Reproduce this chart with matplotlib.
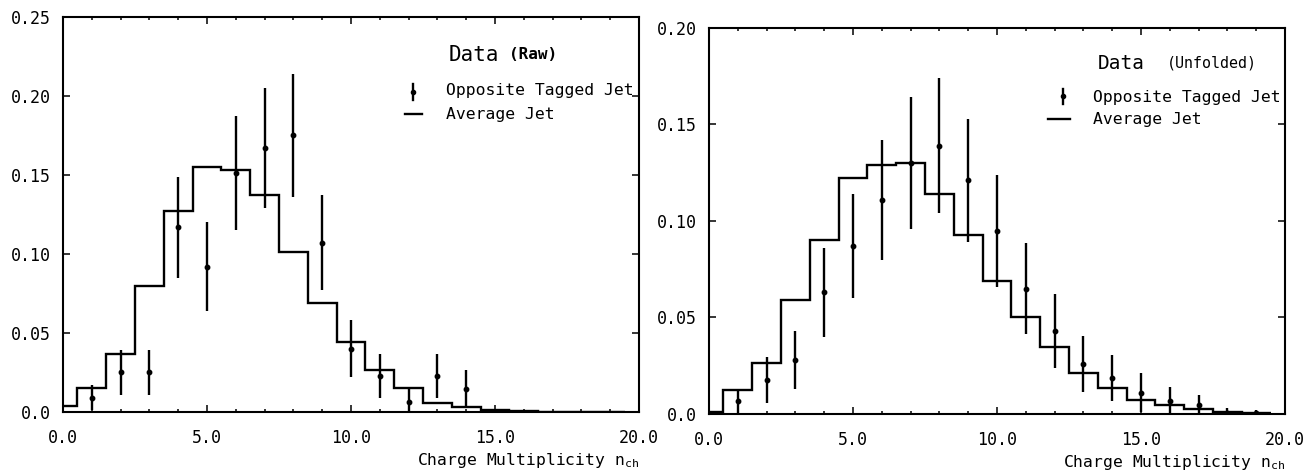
import numpy as np
import matplotlib
matplotlib.use("Agg")
import matplotlib.pyplot as plt
from matplotlib.ticker import MultipleLocator

# ---------------- data ----------------
bin_centers = list(range(0, 20))

# Left panel: Data (Raw)
avg_raw = [0.004, 0.015, 0.0365, 0.080, 0.127, 0.155, 0.153, 0.137, 0.101, 0.069,
           0.044, 0.0266, 0.015, 0.0055, 0.0034, 0.0012, 0.0004, 0.0001, 0.0, 0.0]
otj_raw_x = list(range(1, 15))
otj_raw = [0.009, 0.025, 0.025, 0.117, 0.092, 0.151, 0.167, 0.175, 0.107, 0.040,
           0.023, 0.0065, 0.023, 0.0145]
otj_raw_err = [0.008, 0.014, 0.014, 0.032, 0.028, 0.036, 0.038, 0.039, 0.030, 0.018,
               0.014, 0.009, 0.014, 0.012]

# Right panel: Data (Unfolded)
avg_unf = [0.001, 0.0126, 0.0264, 0.059, 0.090, 0.122, 0.129, 0.130, 0.114, 0.0925,
           0.069, 0.050, 0.0345, 0.021, 0.0133, 0.0072, 0.0046, 0.0026, 0.001, 0.0004]
otj_unf_x = list(range(1, 20))
otj_unf = [0.0066, 0.0175, 0.028, 0.063, 0.087, 0.111, 0.130, 0.139, 0.121, 0.095,
           0.065, 0.043, 0.026, 0.0185, 0.011, 0.0065, 0.0047, 0.0006, 0.0004]
otj_unf_err = [0.0062, 0.012, 0.015, 0.023, 0.027, 0.031, 0.034, 0.035, 0.032, 0.029,
               0.0235, 0.019, 0.0145, 0.012, 0.010, 0.0075, 0.005, 0.0025, 0.0015]

x_ticks = [0, 5, 10, 15, 20]
x_ticklabels = ["0.0", "5.0", "10.0", "15.0", "20.0"]
y_ticks_raw = [0.0, 0.05, 0.10, 0.15, 0.20, 0.25]
y_ticklabels_raw = ["0.0", "0.05", "0.10", "0.15", "0.20", "0.25"]
y_ticks_unf = [0.0, 0.05, 0.10, 0.15, 0.20]
y_ticklabels_unf = ["0.0", "0.05", "0.10", "0.15", "0.20"]

xlabel_text = r"Charge Multiplicity $\mathtt{n_{ch}}$"
title_main = "Data"
title_raw = "(Raw)"
title_unf = "(Unfolded)"
label_otj = "Opposite Tagged Jet"
label_avg = "Average Jet"

MONO = "DejaVu Sans Mono"
plt.rcParams["font.family"] = [MONO, "DejaVu Sans"]
plt.rcParams["mathtext.fontset"] = "dejavusans"

fig = plt.figure(figsize=(13.09, 4.76), dpi=100)
fig.patch.set_facecolor("white")

ax1 = fig.add_axes([0.0481, 0.1345, 0.440, 0.830])
ax2 = fig.add_axes([0.5416, 0.1303, 0.440, 0.811])


def draw_panel(ax, avg, px, py, perr, yticks, yticklabels, ymax, sub, sub_bold,
               sub_size, title_size, leg):
    edges = np.append(np.array(bin_centers) - 0.5, bin_centers[-1] + 0.5)
    ax.stairs(avg, edges, baseline=None, color="black", lw=1.7)
    ax.errorbar(px, py, yerr=perr, fmt="o", color="black", ms=3.2,
                elinewidth=1.7, capsize=0)
    ax.set_xlim(0, 20)
    ax.set_ylim(0, ymax)
    ax.set_xticks(x_ticks, x_ticklabels)
    ax.set_yticks(yticks, yticklabels)
    ax.xaxis.set_minor_locator(MultipleLocator(1))
    ax.tick_params(axis="both", which="both", direction="in", top=True,
                   right=True, width=1.1, labelsize=12)
    ax.tick_params(axis="both", which="major", length=5)
    ax.tick_params(axis="both", which="minor", length=2.5)
    ax.tick_params(axis="x", which="major", pad=12)
    ax.tick_params(axis="y", which="major", pad=9)
    for s in ax.spines.values():
        s.set_linewidth(1.5)
    ax.set_xlabel(xlabel_text, loc="right", fontsize=11.8, labelpad=3)

    # legend (hand-drawn, in axes coordinates)
    t = ax.transAxes
    ax.text(leg["tx"], leg["ty"], title_main, transform=t, fontsize=title_size,
            va="center", ha="left")
    ax.text(leg["sx"], leg["ty"], sub, transform=t, fontsize=sub_size,
            fontweight="bold" if sub_bold else "normal", va="center", ha="left")
    ax.plot([leg["ex"], leg["ex"]], [leg["ey0"], leg["ey1"]], transform=t,
            color="black", lw=1.7, clip_on=False)
    ax.plot([leg["ex"]], [(leg["ey0"] + leg["ey1"]) / 2], "o", transform=t,
            color="black", ms=3, clip_on=False)
    ax.text(leg["lx"], leg["y1"], label_otj, transform=t, fontsize=11.8,
            va="center", ha="left")
    ax.plot([leg["lx0"], leg["lx1"]], [leg["y2"], leg["y2"]], transform=t,
            color="black", lw=1.7)
    ax.text(leg["lx"], leg["y2"], label_avg, transform=t, fontsize=11.8,
            va="center", ha="left")


leg1 = dict(tx=0.670, ty=0.904, sx=0.774, ex=0.608, ey0=0.790, ey1=0.830,
            lx=0.665, y1=0.813, y2=0.754, lx0=0.594, lx1=0.623)
leg2 = dict(tx=0.675, ty=0.909, sx=0.795, ex=0.615, ey0=0.803, ey1=0.842,
            lx=0.667, y1=0.821, y2=0.763, lx0=0.589, lx1=0.627)

draw_panel(ax1, avg_raw, otj_raw_x, otj_raw, otj_raw_err, y_ticks_raw,
           y_ticklabels_raw, 0.25, title_raw, True, 11.5, 15, leg1)
draw_panel(ax2, avg_unf, otj_unf_x, otj_unf, otj_unf_err, y_ticks_unf,
           y_ticklabels_unf, 0.20, title_unf, False, 10.8, 14, leg2)

fig.savefig("out.png", dpi=100, facecolor="white")
